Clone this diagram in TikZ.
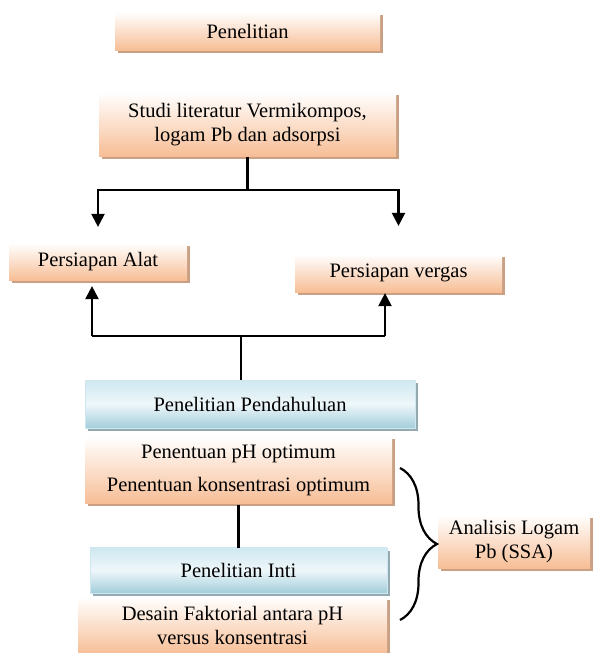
\documentclass[tikz,border=0pt]{standalone}
\usepackage{fontspec}
\setmainfont{Liberation Serif}
\usetikzlibrary{positioning,calc,arrows.meta,shadows,decorations.pathreplacing}
\definecolor{peach}{HTML}{F7BE96}
\definecolor{peachshadow}{HTML}{C9A084}
\definecolor{skytop}{HTML}{CFE8F0}
\definecolor{skymid}{HTML}{EEF7FA}
\definecolor{skybot}{HTML}{A3CEDB}
\definecolor{skyshadow}{HTML}{93AAB3}
\tikzstyle{box} = [rectangle,
                  align = center,
                  inner sep=0pt,
                  top color=white,
                  bottom color=peach,
                  drop shadow={shadow xshift=3pt, shadow yshift=-3pt,
                               fill=peachshadow, opacity=1}]
\tikzstyle{stage} = [rectangle,
                    align = center,
                    inner sep=0pt,
                    draw=skytop,
                    line width=0.6pt,
                    top color=skytop,
                    bottom color=skybot,
                    middle color=skymid,
                    drop shadow={shadow xshift=3pt, shadow yshift=-3pt,
                                 fill=skyshadow, opacity=1}]
\tikzstyle{flow} = [x=1pt, y=1pt,
                   node distance=40pt,
                   >={Triangle[length=13pt,width=13pt]},
                   line width=2.2pt,
                   font=\fontsize{20.5}{24}\selectfont]

\begin{document}
\begin{tikzpicture}[flow]
    \useasboundingbox (0,0) rectangle (596,-653);
    \node (pen) at (247.5,-31) [box, minimum width=265pt, minimum height=38pt] {Penelitian};
    \node (studi) [below =of pen] [box, minimum width=297pt, minimum height=64pt] {Studi literatur Vermikompos,\\logam Pb dan adsorpsi};
    \node (alat) at (98,-261.5) [box, minimum width=178pt, minimum height=37pt] {Persiapan Alat};
    \node (vergas) at (398.5,-273) [box, minimum width=207pt, minimum height=38pt] {Persiapan vergas};
    \node (pend) at (250,-404) [stage, minimum width=330pt, minimum height=48pt] {Penelitian Pendahuluan};
    \node (penen) [below =7pt of pend, xshift=-11.5pt] [box, minimum width=307pt, minimum height=67pt] {Penentuan pH optimum\\[9pt]Penentuan konsentrasi optimum};
    \node (inti) [below =43pt of penen] [stage, minimum width=297pt, minimum height=45pt] {Penelitian Inti};
    \node (desain) [below =3pt of inti, xshift=-6pt] [box, minimum width=309pt, minimum height=57pt] {Desain Faktorial antara pH\\versus konsentrasi};
    \node (analisis) at (514,-541.5) [box, minimum width=152pt, minimum height=53pt] {Analisis Logam\\Pb (SSA)};

    % split to both preparations
    \coordinate (split) at ($(studi.south)+(0,-33)$);
    \draw (studi) -- (split);
    \draw[->, shorten >=15pt] (split) -| (alat);
    \draw[->, shorten >=27pt] (split) -| (vergas);

    % join from the preliminary stage
    \coordinate (join) at (241,-336);
    \coordinate (upA) at (92,-336);
    \coordinate (upV) at (385,-336);
    \draw (pend.north -| join) -- (join);
    \draw (upA) -- (upV);
    \draw[->, shorten >=5pt] (upA) -- (upA |- alat.south);
    \draw[->] (upV) -- (upV |- vergas.south);

    \draw (penen) -- (inti);

    % brace to analysis
    \coordinate (bt) at (400,-468);
    \coordinate (bb) at (400,-620);
    \draw[decorate, decoration={brace, amplitude=37pt}] (bt) -- (bb);
\end{tikzpicture}
\end{document}
